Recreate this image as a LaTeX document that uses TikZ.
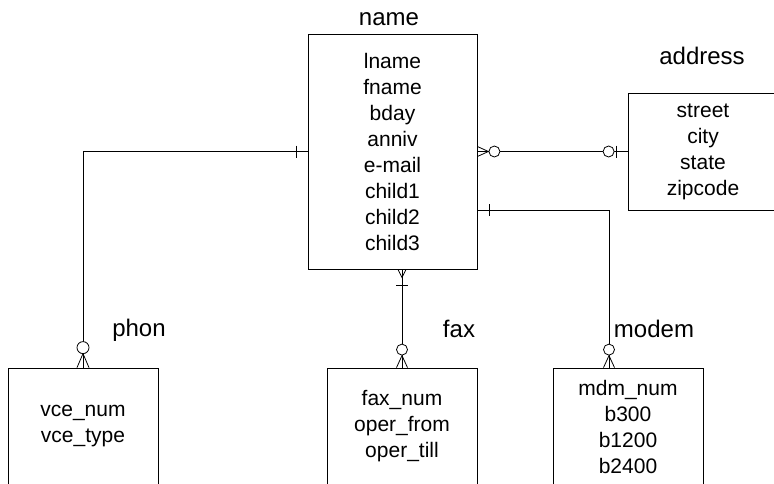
\documentclass[tikz,border=0pt]{standalone}
\usepackage{fontspec}
\setmainfont{Liberation Sans}
\usetikzlibrary{calc}
\begin{document}
\begin{tikzpicture}[x=1pt,y=-1pt,
  entity/.style={draw, line width=0.8pt, minimum width=150pt, minimum height=117pt,
    inner sep=0pt, align=center, font=\fontsize{21}{26}\selectfont},
  title/.style={font=\fontsize{24}{28}\selectfont, anchor=base, inner sep=0pt},
  link/.style={line width=0.8pt, line cap=butt},
  ring/.style={link, fill=white}]
\useasboundingbox (0,0) rectangle (774,483);
\clip (0,0) rectangle (774,483);

% entities
\node[entity, minimum width=169pt, minimum height=235pt] (name) at (392.5,151.5)
  {lname\\fname\\bday\\anniv\\e-mail\\child1\\child2\\child3};
\node[entity] (address) at (703,151.5) {street\\city\\state\\zipcode};
\node[entity] (phon) at (83,426.5) {vce\_num\\vce\_type};
\node[entity] (fax) at (402,426.5) {fax\_num\\oper\_from\\oper\_till};
\node[entity] (modem) at (628,426.5) {mdm\_num\\b300\\b1200\\b2400};

% entity titles
\node[title] (tname) at (389,25) {name};
\node[title] (taddress) at (702,64) {address};
\node[title] (tphon) at (139,336) {phon};
\node[title] (tfax) at (459,337) {fax};
\node[title] (tmodem) at (654,337) {modem};

% name -- phon
\draw[link] (name.west) -| (phon.north);
\draw[link] ($(name.west)+(-11,-6)$) -- ++(0,12);
\draw[link] ($(phon.north)+(-6,0)$) -- ($(phon.north)+(0,-14)$) -- ($(phon.north)+(6,0)$);
\draw[ring] ($(phon.north)+(0,-20)$) circle[radius=6pt];

% name -- address
\draw[link] (name.east) -- (address.west);
\draw[link] ($(name.east)+(0,-5)$) -- ($(name.east)+(11,0)$) -- ($(name.east)+(0,5)$);
\draw[ring] ($(name.east)+(17,0)$) circle[radius=5.5pt];
\draw[ring] ($(address.west)+(-19,0)$) circle[radius=5.5pt];
\draw[link] ($(address.west)+(-11,-6)$) -- ++(0,12);

% name -- fax
\coordinate (fk) at (name.south -| fax.north);
\draw[link] (fk) -- (fax.north);
\draw[link] ($(fk)+(-4,0)$) -- ($(fk)+(0,8)$) -- ($(fk)+(4,0)$);
\draw[link] ($(fk)+(-6,16)$) -- ++(12,0);
\draw[link] ($(fax.north)+(-5.5,0)$) -- ($(fax.north)+(0,-12)$) -- ($(fax.north)+(5.5,0)$);
\draw[ring] ($(fax.north)+(0,-18)$) circle[radius=5.5pt];

% name -- modem
\coordinate (mk) at (609,210);
\draw[link] (name.east |- mk) -| (modem.north -| mk);
\draw[link] ($(name.east |- mk)+(12,-6)$) -- ++(0,12);
\coordinate (mb) at (modem.north -| mk);
\draw[link] ($(mb)+(-5.5,0)$) -- ($(mb)+(0,-12)$) -- ($(mb)+(5.5,0)$);
\draw[ring] ($(mb)+(0,-18)$) circle[radius=5.5pt];
\end{tikzpicture}
\end{document}
